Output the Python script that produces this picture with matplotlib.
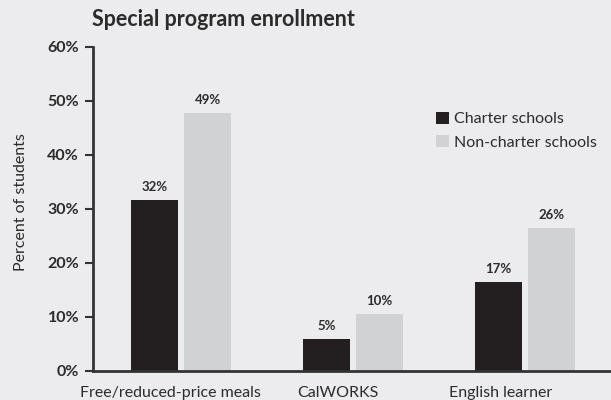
import numpy as np
import matplotlib.pyplot as plt

# data
categories = ["Free/reduced-price meals", "CalWORKS", "English learner"]
charter = [31.7, 5.9, 16.5]
non_charter = [47.8, 10.5, 26.5]
charter_labels = ["32%", "5%", "17%"]
non_charter_labels = ["49%", "10%", "26%"]
yticks = [0, 10, 20, 30, 40, 50, 60]

bg = "#ececee"
dark = "#231f20"
light = "#d1d2d4"
txt = "#2b2b2b"

fig = plt.figure(figsize=(6.11, 4.0), dpi=100, facecolor=bg)
ax = fig.add_axes([93 / 611, 29 / 400, 518 / 611, 324 / 400], facecolor=bg)

x = np.arange(len(categories))
w = 0.273
off = 0.154
b1 = ax.bar(x - off, charter, w, color=dark, label="Charter schools", zorder=2)
b2 = ax.bar(x + off, non_charter, w, color=light, label="Non-charter schools", zorder=2)

for bars, labs in [(b1, charter_labels), (b2, non_charter_labels)]:
    for bar, lab in zip(bars, labs):
        ax.annotate(lab, (bar.get_x() + bar.get_width() / 2, bar.get_height()),
                    xytext=(0, 5), textcoords="offset points", ha="center", va="bottom",
                    fontsize=9.5, fontweight="bold", color=txt, family="Lato")

ax.set_xlim(-0.512, 2.5)
ax.set_ylim(0, 60)
ax.set_yticks(yticks)
ax.set_yticklabels([f"{t}%" for t in yticks], fontsize=11.5, fontweight="bold",
                   color=txt, family="Lato")
# labels sit a little left of the bar pairs in the original
ax.set_xticks(x + np.array([-0.06, -0.09, -0.14]))
ax.set_xticklabels(categories, fontsize=11.5, color=txt, family="Lato")
ax.tick_params(axis="x", length=0, pad=11)
ax.tick_params(axis="y", length=6, width=1.5, color="#333333", pad=4)

for s in ["top", "right"]:
    ax.spines[s].set_visible(False)
ax.spines["left"].set_linewidth(2)
ax.spines["left"].set_color("#333333")
ax.spines["bottom"].set_linewidth(2)
ax.spines["bottom"].set_color("#333333")

ax.set_ylabel("Percent of students", fontsize=11.5, color=txt, family="Lato")
ax.yaxis.set_label_coords(-0.125, 0.52)
fig.text(92 / 611, 1 - 19 / 400, "Special program enrollment", fontsize=15.5,
         fontweight="bold", color=txt, family="Lato", va="center", ha="left")

leg = ax.legend(loc="upper left", bbox_to_anchor=(0.65, 0.82), frameon=False,
                fontsize=11.5, handlelength=0.8, handleheight=0.8, handletextpad=0.3,
                labelspacing=0.55, borderaxespad=0)
for t in leg.get_texts():
    t.set_color(txt)
    t.set_family("Lato")

fig.savefig("out.png", dpi=100, facecolor=bg)
